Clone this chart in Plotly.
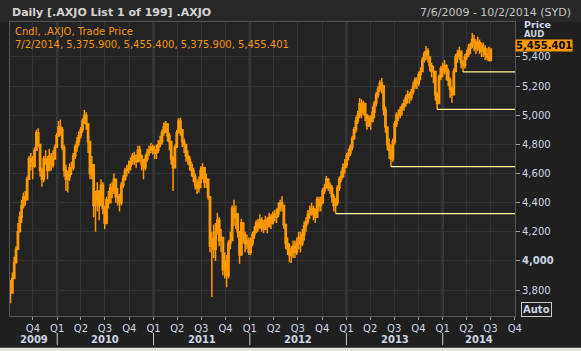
import pandas as pd
import plotly.graph_objects as go

# ---------------- data (weekly candles) ----------------
first_open = 3860

c2009 = [3780, 3880, 3990, 4080, 4200, 4300, 4380, 4440, 4420, 4560, 4700, 4680,
         4650, 4760, 4880, 4800, 4620, 4560, 4700, 4700, 4620, 4720, 4660, 4700, 4780]
h2009 = [3870, 3920, 4030, 4100, 4260, 4340, 4420, 4470, 4480, 4580, 4720, 4740,
         4720, 4780, 4900, 4910, 4800, 4640, 4720, 4760, 4720, 4770, 4740, 4760, 4800]
l2009 = [3710, 3780, 3880, 3980, 4080, 4200, 4260, 4360, 4380, 4420, 4560, 4620,
         4560, 4640, 4760, 4780, 4580, 4510, 4540, 4660, 4560, 4620, 4620, 4640, 4700]

c2010 = [4860, 4920, 4900, 4780, 4620, 4560, 4580, 4640, 4640, 4720, 4780, 4820, 4860,
         4900, 4960, 5000, 4940, 4820, 4600, 4660, 4380, 4420, 4480, 4380, 4520, 4360,
         4260, 4420, 4400, 4500, 4480, 4560, 4440, 4440, 4400, 4520, 4560, 4620, 4630,
         4650, 4680, 4720, 4700, 4680, 4760, 4720, 4660, 4640, 4700, 4740, 4760, 4780, 4760]
h2010 = [4880, 4960, 4970, 4920, 4800, 4660, 4620, 4670, 4680, 4740, 4800, 4850, 4890,
         4920, 4980, 5036, 5020, 4900, 4800, 4720, 4600, 4480, 4540, 4480, 4560, 4540,
         4380, 4440, 4480, 4530, 4540, 4600, 4560, 4500, 4460, 4540, 4590, 4640, 4660,
         4690, 4710, 4740, 4750, 4730, 4790, 4790, 4730, 4700, 4730, 4770, 4790, 4810, 4800]
l2010 = [4780, 4850, 4860, 4760, 4580, 4480, 4470, 4550, 4590, 4620, 4700, 4750, 4790,
         4840, 4880, 4940, 4900, 4740, 4560, 4560, 4300, 4200, 4340, 4280, 4380, 4320,
         4220, 4250, 4360, 4400, 4430, 4460, 4400, 4380, 4340, 4380, 4500, 4550, 4580,
         4600, 4620, 4660, 4660, 4640, 4680, 4680, 4620, 4560, 4620, 4680, 4720, 4740, 4730]

c2011 = [4740, 4760, 4800, 4820, 4880, 4920, 4940, 4860, 4820, 4700, 4640, 4780,
         4880, 4960, 4900, 4820, 4800, 4720, 4700, 4660, 4620, 4580, 4520, 4500, 4540,
         4620, 4640, 4540, 4560, 4440, 4100, 4150, 4080, 4200, 4280, 4140, 4160, 3940, 4000,
         3900, 4120, 4140, 4360, 4300, 4320, 4200, 4040, 4260, 4180, 4120, 4140, 4060]
h2011 = [4790, 4800, 4830, 4860, 4900, 4950, 4960, 4940, 4880, 4820, 4720, 4800,
         4900, 4980, 4985, 4900, 4840, 4800, 4760, 4720, 4680, 4640, 4600, 4560, 4580,
         4650, 4670, 4620, 4600, 4560, 4440, 4200, 4250, 4260, 4330, 4300, 4220, 4140, 4060,
         4040, 4140, 4200, 4380, 4420, 4380, 4330, 4200, 4290, 4260, 4200, 4180, 4160]
l2011 = [4700, 4700, 4740, 4780, 4800, 4860, 4880, 4820, 4760, 4660, 4480, 4640,
         4780, 4880, 4860, 4780, 4740, 4680, 4660, 4620, 4580, 4540, 4490, 4460, 4470,
         4500, 4560, 4500, 4500, 4420, 4060, 3752, 4020, 4000, 4180, 4100, 4060, 3900, 3880,
         3820, 3880, 4080, 4140, 4240, 4220, 4160, 3980, 4040, 4120, 4060, 4080, 4040]

c2012 = [4120, 4180, 4200, 4260, 4230, 4280, 4250, 4220, 4280, 4240, 4300, 4260, 4320,
         4300, 4320, 4360, 4400, 4380, 4250, 4120, 4080, 4040, 4060, 4100, 4060, 4120,
         4160, 4120, 4180, 4240, 4270, 4320, 4340, 4360, 4320, 4300, 4420, 4380, 4400,
         4480, 4500, 4560, 4520, 4500, 4440, 4380, 4400, 4500, 4560, 4580, 4640, 4660]
h2012 = [4160, 4200, 4240, 4280, 4290, 4320, 4300, 4280, 4310, 4300, 4330, 4320, 4340,
         4350, 4360, 4400, 4420, 4445, 4380, 4250, 4160, 4120, 4100, 4140, 4140, 4160,
         4200, 4200, 4220, 4270, 4300, 4350, 4380, 4400, 4380, 4360, 4440, 4440, 4440,
         4500, 4530, 4583, 4570, 4540, 4520, 4460, 4430, 4520, 4580, 4620, 4670, 4700]
l2012 = [4040, 4100, 4150, 4190, 4200, 4220, 4200, 4190, 4210, 4190, 4230, 4220, 4250,
         4270, 4260, 4300, 4340, 4340, 4220, 4080, 4040, 3990, 3985, 4020, 4020, 4040,
         4080, 4060, 4100, 4140, 4200, 4250, 4290, 4310, 4280, 4260, 4320, 4340, 4340,
         4390, 4460, 4500, 4480, 4460, 4400, 4340, 4325, 4380, 4480, 4540, 4570, 4600]

c2013 = [4720, 4740, 4780, 4840, 4900, 4960, 5000, 5080, 5020, 5080, 5000, 4930, 4980,
         4960, 5020, 5080, 5140, 5180, 5220, 5200, 5040, 4920, 4800, 4760, 4700, 4820,
         4940, 5000, 5000, 5040, 5060, 5080, 5120, 5140, 5120, 5160, 5200, 5240, 5220,
         5280, 5300, 5380, 5420, 5440, 5400, 5340, 5300, 5300, 5140, 5080, 5260, 5320]
h2013 = [4740, 4770, 4800, 4860, 4920, 4990, 5030, 5118, 5110, 5100, 5080, 5010, 5000,
         5000, 5060, 5100, 5160, 5200, 5240, 5255, 5180, 5060, 4920, 4840, 4800, 4840,
         4960, 5020, 5040, 5060, 5080, 5110, 5140, 5170, 5160, 5180, 5230, 5260, 5260,
         5300, 5330, 5400, 5440, 5475, 5460, 5400, 5360, 5340, 5280, 5160, 5280, 5340]
l2013 = [4640, 4690, 4720, 4760, 4830, 4880, 4940, 4980, 4980, 5000, 4960, 4900, 4920,
         4900, 4950, 4980, 5060, 5120, 5160, 5150, 5000, 4880, 4760, 4700, 4647, 4680,
         4800, 4920, 4960, 4980, 5000, 5030, 5060, 5080, 5080, 5100, 5140, 5180, 5180,
         5200, 5240, 5300, 5360, 5380, 5360, 5300, 5260, 5220, 5100, 5040, 5080, 5240]

c2014 = [5300, 5340, 5300, 5240, 5180, 5140, 5300, 5400, 5420, 5440, 5360, 5340, 5400,
         5420, 5460, 5480, 5520, 5500, 5460, 5500, 5480, 5440, 5460, 5420, 5400, 5375.9,
         5455.401]
h2014 = [5360, 5380, 5350, 5320, 5260, 5200, 5320, 5420, 5450, 5470, 5440, 5380, 5420,
         5450, 5490, 5500, 5565, 5550, 5520, 5540, 5520, 5500, 5500, 5480, 5460, 5470,
         5455.4]
l2014 = [5260, 5280, 5240, 5200, 5120, 5085, 5140, 5300, 5360, 5380, 5320, 5297, 5320,
         5380, 5400, 5420, 5460, 5440, 5420, 5440, 5420, 5400, 5400, 5380, 5380, 5370,
         5375.9]

year_spans = [("2009-07-10", "2009-12-31"), ("2010-01-01", "2010-12-31"),
              ("2011-01-01", "2011-12-31"), ("2012-01-01", "2012-12-31"),
              ("2013-01-01", "2013-12-31"), ("2014-01-01", "2014-07-04")]

support_start = ["2012-11-21", "2013-06-19", "2013-12-11", "2014-03-19"]
support_level = [4325, 4647, 5040, 5297]

y_ticks = [3800, 4000, 4200, 4400, 4600, 4800, 5000, 5200, 5400]
years = [2009, 2010, 2011, 2012, 2013, 2014]
last_price = "5,455.401"

# ---------------- build ----------------
closes_all = [c2009, c2010, c2011, c2012, c2013, c2014]
highs_all = [h2009, h2010, h2011, h2012, h2013, h2014]
lows_all = [l2009, l2010, l2011, l2012, l2013, l2014]

dates, closes, highs, lows = [], [], [], []
for (s, e), c, h, l in zip(year_spans, closes_all, highs_all, lows_all):
    d = pd.date_range(s, e, freq="W-FRI") - pd.Timedelta(days=2)
    n = min(len(d), len(c))
    dates += list(d[:n]); closes += c[:n]; highs += h[:n]; lows += l[:n]
opens = [first_open] + closes[:-1]
highs = [max(h, o, c) for h, o, c in zip(highs, opens, closes)]
lows = [min(l, o, c) for l, o, c in zip(lows, opens, closes)]

ORANGE = "#ff9900"
PAPER = "#1f1f1f"
PLOT = "#232323"
GRID = "#333333"
TXT = "#cdd5e5"
FONT = "DejaVu Sans"
X0, X1 = "2009-07-06", "2014-10-02"

fig = go.Figure()
fig.add_trace(go.Candlestick(
    x=dates, open=opens, high=highs, low=lows, close=closes,
    increasing=dict(line=dict(color=ORANGE, width=1.5), fillcolor=PLOT),
    decreasing=dict(line=dict(color=ORANGE, width=1.5), fillcolor=ORANGE),
    whiskerwidth=0, showlegend=False, hoverinfo="skip"))

for d, v in zip(support_start, support_level):
    fig.add_trace(go.Scatter(x=[d, X1], y=[v, v], mode="lines",
                             line=dict(color="#fbf79a", width=1.3),
                             showlegend=False, hoverinfo="skip"))

qdates = pd.date_range("2009-10-01", "2014-10-01", freq="QS")
qtext = ["Q%d" % d.quarter for d in qdates]

ytext = ["<b>%s</b>" % f"{v:,}" if v == 4000 else f"{v:,}" for v in y_ticks]

shapes = []
annotations = []
# header band
shapes.append(dict(type="rect", xref="paper", yref="paper", x0=-0.02, x1=1.14,
                   y0=1.0, y1=1.08, fillcolor="#282828", line=dict(width=0), layer="below"))
for yr in years[1:]:
    shapes.append(dict(type="line", xref="x", yref="paper", x0=f"{yr}-01-01", x1=f"{yr}-01-01",
                       y0=0, y1=1, line=dict(color="#3a3a3a", width=2.5), layer="between"))
    shapes.append(dict(type="line", xref="x", yref="paper", x0=f"{yr}-01-01", x1=f"{yr}-01-01",
                       y0=-0.058, y1=-0.099, line=dict(color="#c8d0e0", width=1)))

starts = [pd.Timestamp(X0)] + [pd.Timestamp(f"{y}-01-01") for y in years[1:]]
ends = [pd.Timestamp(f"{y}-01-01") for y in years[1:]] + [pd.Timestamp(X1)]
for yr, s, e in zip(years, starts, ends):
    annotations.append(dict(x=s + (e - s) / 2, y=-0.079, xref="x", yref="paper",
                            text=f"<b>{yr}</b>", showarrow=False, yanchor="middle",
                            font=dict(family=FONT, size=10, color=TXT)))

annotations += [
    dict(x=0, y=1.034, xref="paper", yref="paper", xanchor="left", yanchor="middle",
         text="<b>Daily [.AXJO List 1 of 199] .AXJO</b>", showarrow=False, xshift=0,
         font=dict(family=FONT, size=11, color="#d4d4d4")),
    dict(x=1.1149, y=1.034, xref="paper", yref="paper", xanchor="right", yanchor="middle",
         text="7/6/2009 - 10/2/2014 (SYD)", showarrow=False,
         font=dict(family=FONT, size=11, color="#c4c4c4")),
    dict(x=0.005, y=0.969, xref="paper", yref="paper", xanchor="left", yanchor="middle",
         text="Cndl, .AXJO, Trade Price", showarrow=False,
         font=dict(family=FONT, size=10, color="#f39410")),
    dict(x=0.005, y=0.925, xref="paper", yref="paper", xanchor="left", yanchor="middle",
         text="7/2/2014, 5,375.900, 5,455.400, 5,375.900, 5,455.401", showarrow=False,
         font=dict(family=FONT, size=10, color="#f39410")),
    dict(x=1.013, y=0.991, xref="paper", yref="paper", xanchor="left", yanchor="middle",
         text="<b>Price</b>", showarrow=False, font=dict(family=FONT, size=9.5, color=TXT)),
    dict(x=1.013, y=0.960, xref="paper", yref="paper", xanchor="left", yanchor="middle",
         text="<b>AUD</b>", showarrow=False, font=dict(family=FONT, size=8.5, color=TXT)),
    dict(x=1.0, y=0.921, xref="paper", yref="paper", xanchor="left", yanchor="middle",
         text=f"<b>{last_price}</b>", showarrow=False, bgcolor=ORANGE, borderpad=0,
         font=dict(family=FONT, size=10, color="#000000")),
    dict(x=1.0426, y=0.022, xref="paper", yref="paper", xanchor="center", yanchor="middle",
         text="<b>Auto</b>", showarrow=False, bordercolor="#c8c8c8", borderwidth=1, borderpad=1,
         font=dict(family=FONT, size=10, color=TXT)),
]

# window frame bottom strip
shapes.append(dict(type="rect", xref="paper", yref="paper", x0=-0.03, x1=1.16,
                   y0=-0.119, y1=-0.108, fillcolor="#e4e4da", line=dict(width=0)))

fig.update_layout(
    width=581, height=351,
    margin=dict(l=10, r=66, t=22, b=35),
    paper_bgcolor=PAPER, plot_bgcolor=PLOT,
    boxgap=0,
    shapes=shapes, annotations=annotations,
    xaxis=dict(type="date", range=[X0, X1], tickvals=list(qdates), ticktext=qtext,
               ticks="outside", ticklen=3, tickcolor="#9a9a9a",
               tickfont=dict(family=FONT, size=10, color=TXT),
               showgrid=True, gridcolor=GRID, gridwidth=1,
               showline=True, linecolor="#555555", mirror=True, zeroline=False,
               rangeslider=dict(visible=False), fixedrange=True),
    yaxis=dict(side="right", range=[3622, 5640], tickvals=y_ticks, ticktext=ytext,
               ticks="outside", ticklen=4, tickcolor="#9a9a9a",
               tickfont=dict(family=FONT, size=10, color=TXT),
               showgrid=True, gridcolor=GRID, gridwidth=1,
               showline=True, linecolor="#555555", mirror=True, zeroline=False,
               fixedrange=True),
)

fig.write_html("out.html")
